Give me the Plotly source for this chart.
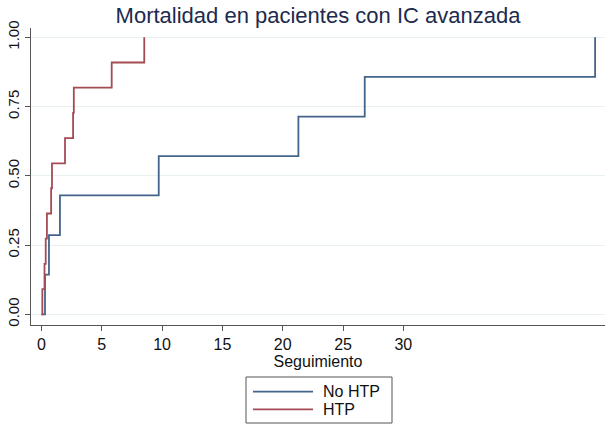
import plotly.graph_objects as go

# Kaplan-Meier failure estimates
no_htp_t = [0, 0.29, 0.62, 1.53, 9.72, 21.3, 26.8, 45.9]
no_htp_f = [0, 0.143, 0.286, 0.429, 0.571, 0.714, 0.857, 1.0]
htp_t = [0, 0.07, 0.25, 0.35, 0.45, 0.80, 0.87, 1.95, 2.62, 2.68, 5.82, 8.52]
htp_f = [0, 0.091, 0.182, 0.273, 0.364, 0.455, 0.545, 0.636, 0.727, 0.818, 0.909, 1.0]

x_ticks = [0, 5, 10, 15, 20, 25, 30]
y_ticks = [0, 0.25, 0.5, 0.75, 1.0]
series_names = ["No HTP", "HTP"]

BLUE = "#44658b"
RED = "#a44b54"
FONT = "Liberation Sans, Arial, Helvetica, sans-serif"

fig = go.Figure()
fig.add_trace(go.Scatter(x=no_htp_t, y=no_htp_f, mode="lines", line=dict(shape="hv", color=BLUE, width=1.8),
                         name=series_names[0], showlegend=False, cliponaxis=False))
fig.add_trace(go.Scatter(x=htp_t, y=htp_f, mode="lines", line=dict(shape="hv", color=RED, width=1.8),
                         name=series_names[1], showlegend=False, cliponaxis=False))

W, H = 610, 429
L, R, T, B = 31, 5, 28, 104
pw, ph = W - L - R, H - T - B


def px(x):
    return (x - L) / pw


def py(y):
    return (H - B - y) / ph


# manual legend
fig.add_shape(type="rect", xref="paper", yref="paper", x0=px(246), x1=px(392), y0=py(377), y1=py(423),
              line=dict(color="#555555", width=1), fillcolor="white")
for i, (nm, col) in enumerate(zip(series_names, [BLUE, RED])):
    yy = 391.7 + i * 17.6
    fig.add_shape(type="line", xref="paper", yref="paper", x0=px(253), x1=px(313), y0=py(yy), y1=py(yy),
                  line=dict(color=col, width=1.8))
    fig.add_annotation(x=px(321), y=py(yy), xref="paper", yref="paper", text=nm, showarrow=False,
                       xanchor="left", yanchor="middle", font=dict(family=FONT, size=16, color="#111111"))

fig.update_layout(
    width=W, height=H,
    margin=dict(l=L, r=R, t=T, b=B, autoexpand=False),
    paper_bgcolor="white", plot_bgcolor="white",
    title=dict(text="Mortalidad en pacientes con IC avanzada", x=(L + pw / 2) / W, xanchor="center",
               y=1 - 15 / H, yanchor="middle", automargin=False,
               font=dict(family=FONT, size=22, color="#1c2a4e")),
    font=dict(family=FONT, size=15, color="#111111"),
)
fig.update_xaxes(range=[-0.87, 46.72], tickvals=x_ticks, ticks="outside", ticklen=5, tickcolor="#555555",
                 showline=True, linecolor="#555555", linewidth=1.2, showgrid=False, zeroline=False,
                 automargin=False,
                 title=dict(text="Seguimiento", standoff=2, font=dict(size=16)), tickfont=dict(size=16))
fig.update_yaxes(range=[-0.0386, 1.0336], tickvals=y_ticks, tickformat=".2f", tickangle=-90, ticks="outside",
                 ticklen=5, tickcolor="#555555", showline=True, linecolor="#555555", linewidth=1.2,
                 automargin=False,
                 showgrid=True, gridcolor="#e8f0f2", gridwidth=1, zeroline=False, tickfont=dict(size=15))

fig.write_html("out.html", config={"displayModeBar": False},
               post_script="document.body.style.margin='0';document.body.style.padding='0';")
